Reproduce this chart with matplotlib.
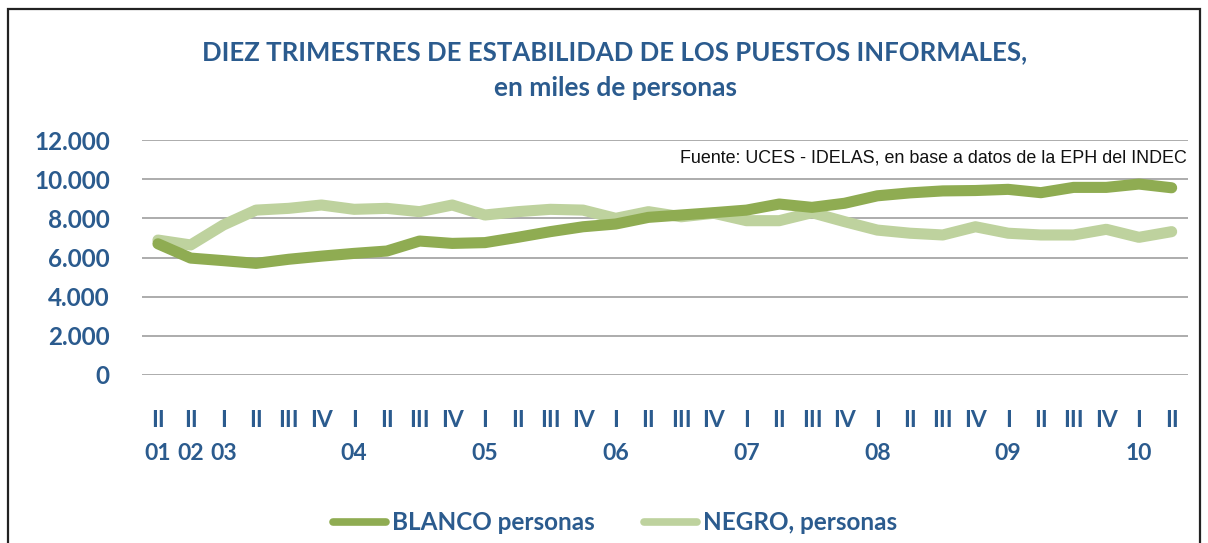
import matplotlib
matplotlib.use("Agg")
import matplotlib.pyplot as plt
from matplotlib.patches import Rectangle

quarters = ["II", "II", "I", "II", "III", "IV",
            "I", "II", "III", "IV", "I", "II", "III", "IV",
            "I", "II", "III", "IV", "I", "II", "III", "IV",
            "I", "II", "III", "IV", "I", "II", "III", "IV",
            "I", "II"]
years = ["01", "02", "03", "", "", "",
         "04", "", "", "", "05", "", "", "",
         "06", "", "", "", "07", "", "", "",
         "08", "", "", "", "09", "", "", "",
         "10", ""]
blanco = [6700, 5970, 5840, 5700, 5910, 6070, 6210, 6330, 6840, 6720,
          6760, 7030, 7320, 7570, 7710, 8050, 8170, 8290, 8420, 8730,
          8560, 8770, 9150, 9300, 9400, 9420, 9480, 9310, 9580, 9580,
          9750, 9560]
negro = [6890, 6640, 7660, 8420, 8510, 8680, 8460, 8510, 8340, 8680,
         8170, 8340, 8460, 8420, 8000, 8340, 8080, 8260, 7880, 7880,
         8290, 7830, 7400, 7240, 7150, 7570, 7240, 7150, 7150, 7440,
         7030, 7320]
yticks = [0, 2000, 4000, 6000, 8000, 10000, 12000]
ytick_labels = ["0", "2.000", "4.000", "6.000", "8.000", "10.000", "12.000"]

BLUE = "#2B5B8E"
DARK = "#8FAC52"
LIGHT = "#BED29E"

plt.rcParams['font.family'] = ['Lato', 'DejaVu Sans']

fig = plt.figure(figsize=(12.08, 5.43), dpi=100)
W, H = 1208, 543

# outer frame
fig.patches.append(Rectangle((8 / W, -0.1), (1200 - 8) / W, (H - 9) / H + 0.1,
                             transform=fig.transFigure, fill=False,
                             edgecolor="#222222", linewidth=1.6))

ax = fig.add_axes([141.6 / W, (H - 375) / H, (1188 - 141.6) / W, (375 - 140) / H])
x = list(range(len(blanco)))
ax.plot(x, blanco, color=DARK, lw=8, solid_capstyle="round", solid_joinstyle="round",
        label="BLANCO personas", zorder=3)
ax.plot(x, negro, color=LIGHT, lw=8, solid_capstyle="round", solid_joinstyle="round",
        label="NEGRO, personas", zorder=2)

ax.set_xlim(-0.5, len(x) - 0.5)
ax.set_ylim(0, 12000)
ax.set_yticks(yticks)
ax.set_yticklabels(ytick_labels, fontsize=17.5, fontweight="bold", color=BLUE)
ax.tick_params(axis="y", length=0, pad=23)
ax.grid(axis="y", color="#A6A6A6", lw=1.3)
ax.set_axisbelow(True)
for s in ax.spines.values():
    s.set_visible(False)

labels = [q + ("\n" + y if y else "") for q, y in zip(quarters, years)]
ax.set_xticks(x)
ax.set_xticklabels(labels, fontsize=16.5, fontweight="bold", color=BLUE,
                   linespacing=1.75, va="top")
ax.tick_params(axis="x", length=0, pad=25)

fig.text(615 / W, 1 - 52 / H, "DIEZ TRIMESTRES DE ESTABILIDAD DE LOS PUESTOS INFORMALES,",
         ha="center", va="center", fontsize=18.5, fontweight="bold", color=BLUE)
fig.text(615 / W, 1 - 88 / H, "en miles de personas",
         ha="center", va="center", fontsize=19, fontweight="bold", color=BLUE)

ax.text(1187 / W, 1 - 158 / H, "Fuente: UCES - IDELAS, en base a datos de la EPH del INDEC",
        transform=fig.transFigure, ha="right", va="center", fontsize=12.9,
        family="Liberation Sans", color="#111111")

leg = fig.legend(loc="center", bbox_to_anchor=(615 / W, 1 - 523 / H), ncol=2,
                 frameon=False, fontsize=17.5, handlelength=2.2, handletextpad=0.25,
                 columnspacing=2.0, labelcolor=BLUE)
for h in leg.legend_handles:
    h.set_linewidth(5.5)
for t in leg.get_texts():
    t.set_fontweight("bold")

fig.savefig("out.png", dpi=100, facecolor="white")
